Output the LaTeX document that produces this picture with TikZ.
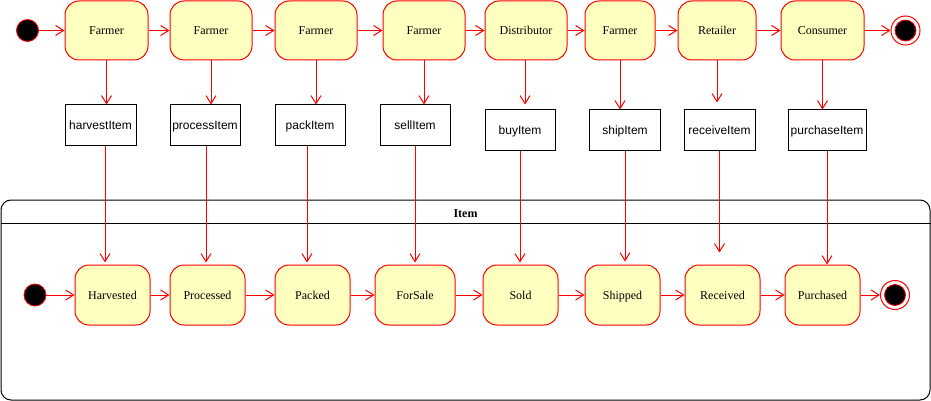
\documentclass[tikz,border=0pt]{standalone}
\usepackage{fontspec}
\setmainfont{Liberation Serif}
\setsansfont{Liberation Sans}
\usetikzlibrary{arrows.meta,calc}
\definecolor{stfill}{HTML}{FFFFC0}
\tikzset{
  st/.style={draw=red, fill=stfill, rounded corners=14pt, line width=1pt, minimum height=59pt, inner sep=0pt, text height=10pt, text depth=1pt, font=\fontsize{12}{14}\selectfont},
  bst/.style={st, minimum height=60pt, minimum width=75pt},
  lbl/.style={draw=black, fill=white, line width=1pt, minimum width=70pt, minimum height=40pt, inner sep=0pt, text height=10pt, text depth=1pt, font=\sffamily\fontsize{12}{14}\selectfont},
  ar/.style={draw=red, line width=1pt, -{Straight Barb[length=8pt,width=10pt,line width=1pt]}},
  initst/.style={circle, draw=red, fill=black, minimum size=22pt, inner sep=0pt, line width=0.8pt},
  finout/.style={circle, draw=red, fill=white, minimum size=29pt, inner sep=0pt, line width=1pt},
  finin/.style={circle, draw=red, fill=black, minimum size=21pt, inner sep=0pt, line width=0.8pt},
  cont/.style={draw=black, line width=1pt, rounded corners=10pt, fill=white, inner sep=0pt},
}
\begin{document}
\begin{tikzpicture}[x=1pt,y=-1pt]
\useasboundingbox (0,0) rectangle (931,401);
% container
\node[cont, minimum width=929pt, minimum height=200pt] (item) at (465.5,300) {};
\node[font=\bfseries\fontsize{12}{14}\selectfont, inner sep=0pt] (itemlbl) at (465.5,213.5) {Item};
\draw[line width=1pt] (item.west |- 0,223) coordinate (hl) -- (item.east |- 0,223) coordinate (hr);
% top row
\node[initst] (i1) at (27.5,30.5) {};
\node[st, minimum width=83pt] (f1) at (106.5,30.5) {Farmer};
\node[st, minimum width=82pt] (f2) at (211,30.5) {Farmer};
\node[st, minimum width=82pt] (f3) at (316,30.5) {Farmer};
\node[st, minimum width=82pt] (f4) at (424,30.5) {Farmer};
\node[st, minimum width=82pt] (d5) at (526,30.5) {Distributor};
\node[st, minimum width=70pt] (f6) at (620,30.5) {Farmer};
\node[st, minimum width=78pt] (r7) at (717,30.5) {Retailer};
\node[st, minimum width=83pt] (c8) at (822.5,30.5) {Consumer};
\node[finout] (e1) at (905.5,30.5) {};
\node[finin] at (e1) {};
% labels
\node[lbl, minimum width=71pt] (l1) at (100.5,125) {harvestItem};
\node[lbl] (l2) at (205,125) {processItem};
\node[lbl] (l3) at (310,125) {packItem};
\node[lbl] (l4) at (415,125) {sellItem};
\node[lbl] (l5) at (520,130) {buyItem};
\node[lbl, minimum width=71pt] (l6) at (625,130) {shipItem};
\node[lbl, minimum width=71pt] (l7) at (719.5,130) {receiveItem};
\node[lbl, minimum width=78pt] (l8) at (827,130) {purchaseItem};
% bottom row
\node[initst] (i2) at (35,295) {};
\node[bst] (s1) at (112.5,295) {Harvested};
\node[bst] (s2) at (207.5,295) {Processed};
\node[bst] (s3) at (312.5,295) {Packed};
\node[bst, minimum width=80pt] (s4) at (415,295) {ForSale};
\node[bst] (s5) at (520.5,295) {Sold};
\node[bst] (s6) at (622.5,295) {Shipped};
\node[bst] (s7) at (722.5,295) {Received};
\node[bst] (s8) at (822.5,295) {Purchased};
\node[finout] (e2) at (895,295) {};
\node[finin] at (e2) {};
% horizontal top
\draw[ar] (i1) -- (f1);
\draw[ar] (f1) -- (f2);
\draw[ar] (f2) -- (f3);
\draw[ar] (f3) -- (f4);
\draw[ar] (f4) -- (d5);
\draw[ar] (d5) -- (f6);
\draw[ar] (f6) -- (r7);
\draw[ar] (r7) -- (c8);
\draw[ar] (c8) -- (e1);
% horizontal bottom
\draw[ar] (i2) -- (s1);
\draw[ar] (s1) -- (s2);
\draw[ar] (s2) -- (s3);
\draw[ar] (s3) -- (s4);
\draw[ar] (s4) -- (s5);
\draw[ar] (s5) -- (s6);
\draw[ar] (s6) -- (s7);
\draw[ar] (s7) -- (s8);
\draw[ar] (s8) -- (e2);
% top to labels
\draw[ar] (f1.south) -- (f1.south |- l1.north);
\draw[ar] (f2.south) -- (f2.south |- l2.north);
\draw[ar] (f3.south) -- (f3.south |- l3.north);
\draw[ar] (f4.south) -- (f4.south |- l4.north);
\draw[ar, shorten >=5pt] ([xshift=-1pt]d5.south) -- ([xshift=-1pt]d5.south |- l5.north);
\draw[ar] (f6.south) -- (f6.south |- l6.north);
\draw[ar, shorten >=7pt] (r7.south) -- (r7.south |- l7.north);
\draw[ar] (c8.south) -- (c8.south |- l8.north);
% labels to bottom
\draw[ar, shorten >=2pt] ([xshift=4.5pt]l1.south) -- ([xshift=4.5pt]l1.south |- s1.north);
\draw[ar, shorten >=2pt] ([xshift=1pt]l2.south) -- ([xshift=1pt]l2.south |- s2.north);
\draw[ar, shorten >=2pt] ([xshift=-3pt]l3.south) -- ([xshift=-3pt]l3.south |- s3.north);
\draw[ar, shorten >=2pt] (l4.south) -- (l4.south |- s4.north);
\draw[ar, shorten >=2pt] (l5.south) -- (l5.south |- s5.north);
\draw[ar, shorten >=3pt] (l6.south) -- (l6.south |- s6.north);
\draw[ar, shorten >=12pt] (l7.south) -- (l7.south |- s7.north);
\draw[ar] (l8.south) -- (l8.south |- s8.north);
\end{tikzpicture}
\end{document}
